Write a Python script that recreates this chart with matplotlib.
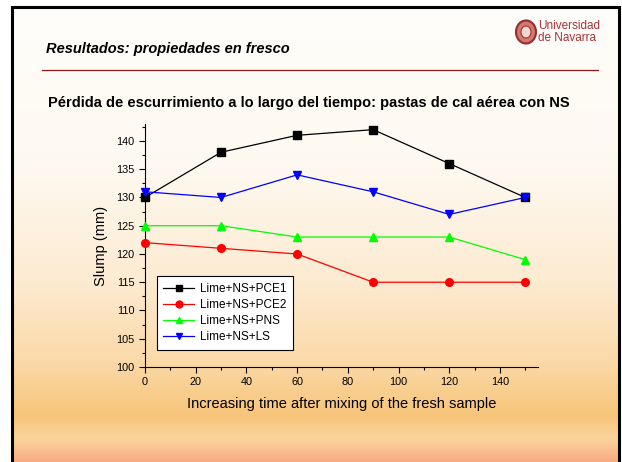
import numpy as np
import matplotlib.pyplot as plt
from matplotlib.colors import LinearSegmentedColormap
from matplotlib.patches import Rectangle, Ellipse

plt.rcParams['font.family'] = ['Liberation Sans', 'DejaVu Sans']

time_min = [0, 30, 60, 90, 120, 150]
slump_pce1 = [130, 138, 141, 142, 136, 130]
slump_pce2 = [122, 121, 120, 115, 115, 115]
slump_pns = [125, 125, 123, 123, 123, 119]
slump_ls = [131, 130, 134, 131, 127, 130]

series = [
    ("Lime+NS+PCE1", slump_pce1, "black", "s"),
    ("Lime+NS+PCE2", slump_pce2, "red", "o"),
    ("Lime+NS+PNS", slump_pns, "#00FF00", "^"),
    ("Lime+NS+LS", slump_ls, "blue", "v"),
]

W, H = 622, 462
fig = plt.figure(figsize=(W / 100, H / 100), dpi=100)
fig.patch.set_facecolor("white")

# slide background gradient inside the black frame
bx0, bx1, by0 = 12, 619, 7
bg = fig.add_axes([bx0 / W, 0, (bx1 - bx0) / W, 1 - by0 / H])
bg.set_axis_off()
stops = [(0.0, "#FFFEFB"), (0.35, "#FEF9F0"), (0.6, "#FDEBD2"),
         (0.78, "#FBD9A8"), (0.9, "#F7C57A"), (0.95, "#FBD49C"), (1.0, "#F8AC84")]
cmap = LinearSegmentedColormap.from_list("slide", stops)
grad = np.linspace(0, 1, 256).reshape(-1, 1)
bg.imshow(grad, aspect="auto", cmap=cmap, extent=[0, 1, 0, 1], origin="upper")
bg.set_xlim(0, 1)
bg.set_ylim(0, 1)

fig.patches.append(Rectangle((bx0 / W, -0.01), (bx1 - bx0) / W, 1.01 - by0 / H,
                             transform=fig.transFigure, fill=False,
                             edgecolor="black", linewidth=2.2, zorder=5))

# header
fig.text(46 / W, 1 - 49 / H, "Resultados: propiedades en fresco", fontsize=10.5,
         fontweight="bold", fontstyle="italic", va="center", ha="left")
fig.add_artist(plt.Line2D([42 / W, 598 / W], [1 - 70 / H, 1 - 70 / H],
                          color="#8B1C1C", linewidth=0.9))
fig.patches.append(Ellipse((526 / W, 1 - 32 / H), 20 / W, 23 / H,
                           transform=fig.transFigure, facecolor="#CF7A70",
                           edgecolor="#9B2B2B", linewidth=1.5))
fig.patches.append(Ellipse((526 / W, 1 - 32 / H), 10 / W, 12 / H,
                           transform=fig.transFigure, facecolor="#F3D8D0",
                           edgecolor="#A8323A", linewidth=0.8))
fig.text(538 / W, 1 - 26 / H, "Universidad", fontsize=8.5, color="#A8323A",
         va="center", ha="left")
fig.text(538 / W, 1 - 38 / H, "de Navarra", fontsize=8.5, color="#A8323A",
         va="center", ha="left")

fig.text(309 / W, 1 - 103 / H,
         "Pérdida de escurrimiento a lo largo del tiempo: pastas de cal aérea con NS",
         fontsize=10.5, fontweight="bold", ha="center", va="center")

# chart
ax = fig.add_axes([145 / W, 1 - 367 / H, (538 - 145) / W, (367 - 124) / H])
ax.patch.set_alpha(0)
for label, vals, color, marker in series:
    ax.plot(time_min, vals, color=color, marker=marker, markersize=5.5,
            linewidth=0.9, label=label, clip_on=False, zorder=3)

ax.set_xlim(0, 155)
ax.set_ylim(100, 143)
ax.set_xticks(np.arange(0, 141, 20))
ax.set_xticks(np.arange(10, 155, 20), minor=True)
ax.set_yticks(np.arange(100, 141, 5))
ax.set_yticks(np.arange(102.5, 143, 5), minor=True)
ax.spines["top"].set_visible(False)
ax.spines["right"].set_visible(False)
ax.tick_params(which="major", direction="out", length=4, width=0.8, labelsize=7.8)
ax.tick_params(which="minor", direction="out", length=2, width=0.8)
ax.set_xlabel("Increasing time after mixing of the fresh sample", fontsize=10.5,
              labelpad=7)
ax.set_ylabel("Slump (mm)", fontsize=10.5, labelpad=6)

leg = ax.legend(loc="lower left", bbox_to_anchor=(0.03, 0.07), fontsize=8.5,
                fancybox=False, edgecolor="black", framealpha=1,
                handlelength=2.6, handletextpad=0.5, borderpad=0.55,
                labelspacing=0.36, markerscale=0.9, borderaxespad=0)
leg.get_frame().set_linewidth(0.8)

fig.savefig("out.png", dpi=100)
